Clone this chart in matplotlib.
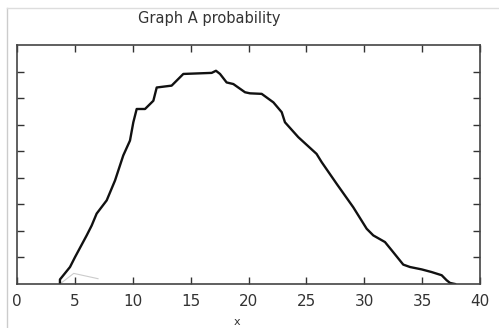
import matplotlib.pyplot as plt
from matplotlib.lines import Line2D

# traced curve (x, probability in tick units)
x_vals = [3.71, 3.71, 4.58, 5.01, 6.02, 6.45, 6.88, 7.75, 8.47, 9.18, 9.76, 10.05,
          10.34, 11.06, 11.78, 12.07, 13.36, 14.37, 16.82, 17.19, 17.54, 18.11,
          18.69, 19.70, 20.13, 21.14, 22.15, 22.87, 23.15, 24.30, 25.88, 26.32,
          27.62, 29.05, 30.21, 30.78, 31.79, 32.37, 33.37, 33.95, 34.96, 35.82,
          36.69, 37.12, 37.41, 37.84]
y_vals = [0.00, 0.17, 0.64, 1.01, 1.83, 2.20, 2.65, 3.15, 3.90, 4.84, 5.40, 6.09,
          6.59, 6.59, 6.90, 7.40, 7.47, 7.91, 7.95, 8.03, 7.91, 7.59,
          7.53, 7.22, 7.18, 7.16, 6.84, 6.47, 6.09, 5.53, 4.90, 4.59,
          3.77, 2.89, 2.08, 1.83, 1.58, 1.27, 0.73, 0.64, 0.55, 0.45,
          0.33, 0.14, 0.04, 0.00]

# faint ghost trace near the bottom left
ghost_x = [3.71, 4.9, 7.0]
ghost_y = [0.00, 0.40, 0.20]

x_ticks = [0, 5, 10, 15, 20, 25, 30, 35, 40]
y_ticks = [1, 2, 3, 4, 5, 6, 7, 8]

fig = plt.figure(figsize=(4.99, 3.28), dpi=100)
ax = fig.add_axes([17 / 499, 1 - 284 / 328, 463 / 499, 239 / 328])

ax.plot(ghost_x, ghost_y, color='#cccccc', lw=0.8)
ax.plot(x_vals, y_vals, color='#111111', lw=1.7, solid_joinstyle='round')

ax.set_xlim(0, 40)
ax.set_ylim(0, 9)
ax.set_xticks(x_ticks)
ax.set_yticks(y_ticks)
ax.set_yticklabels([])
ax.tick_params(direction='in', length=5, width=1, colors='#333333',
               top=True, right=True, labelsize=11, pad=7)
for s in ax.spines.values():
    s.set_color('#444444')
    s.set_linewidth(1.2)

fig.text(138 / 499, 1 - 19 / 328, 'Graph A probability', fontsize=10.5,
         color='#333333', ha='left', va='center')
fig.text(237 / 499, 1 - 322 / 328, 'x', fontsize=8, color='#333333',
         ha='center', va='center')

# light frame edges of the screenshot
fig.add_artist(Line2D([7 / 499, 7 / 499], [0, 1 - 8 / 328], color='#cccccc', lw=1))
fig.add_artist(Line2D([7 / 499, 1], [1 - 8 / 328, 1 - 8 / 328], color='#dddddd', lw=1))

fig.savefig('out.png', dpi=100)
